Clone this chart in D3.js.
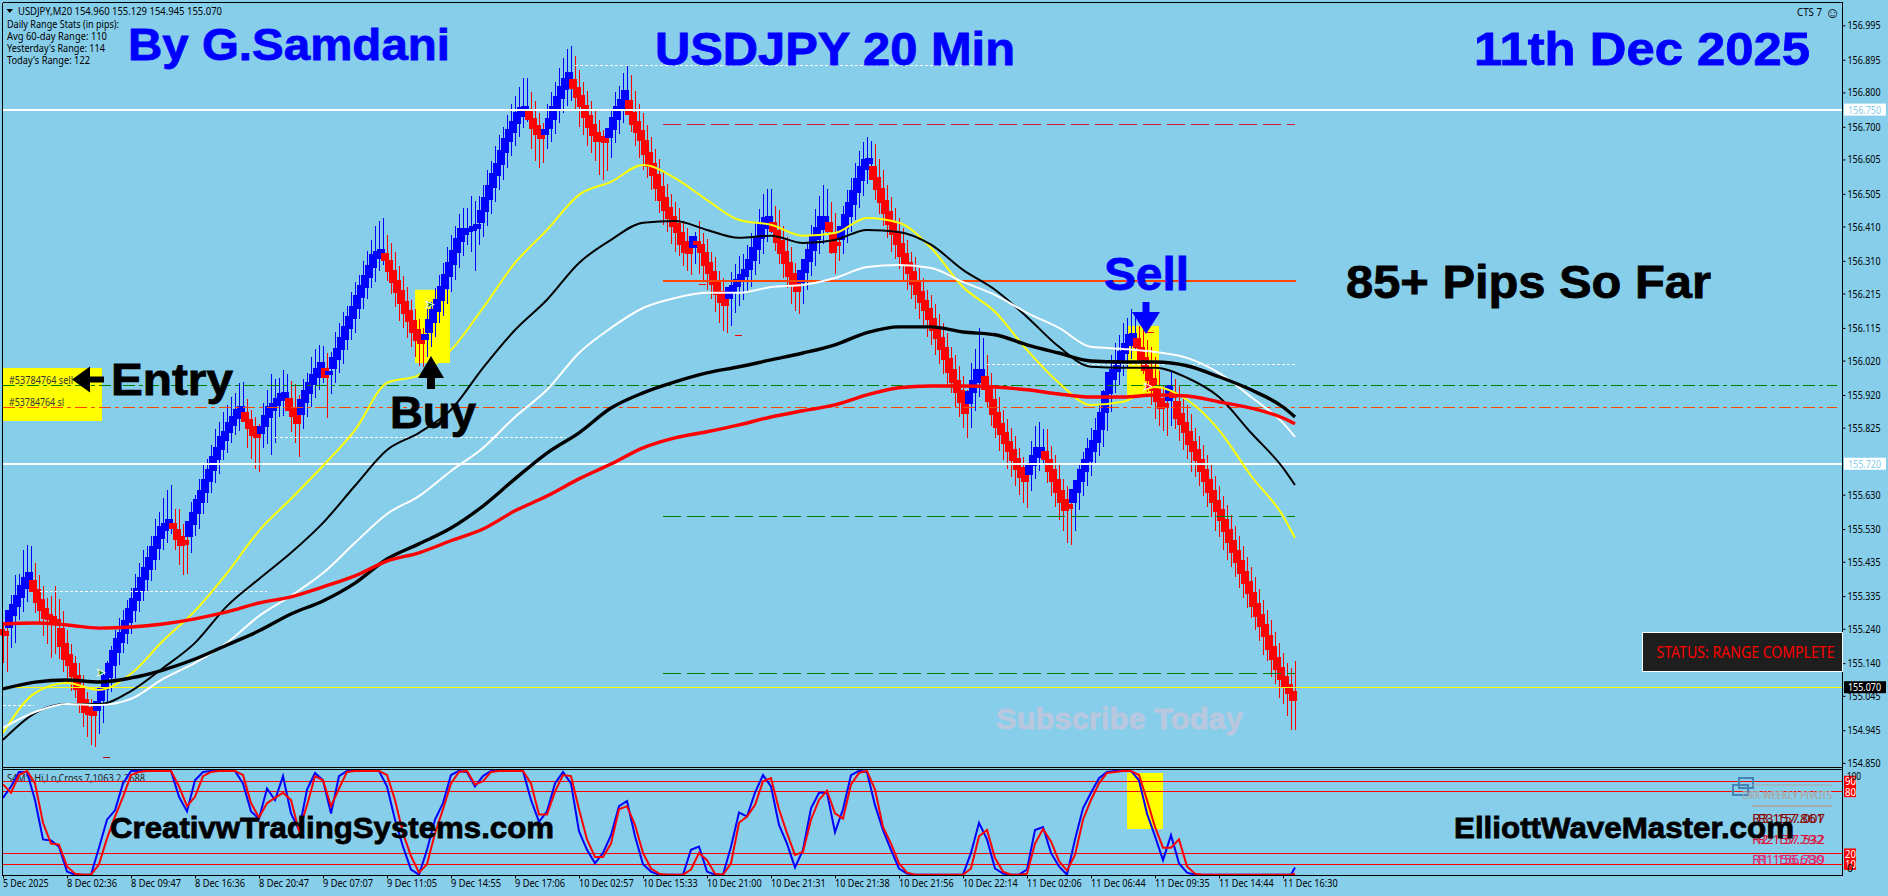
<!DOCTYPE html>
<html>
<head>
<meta charset="utf-8">
<title>USDJPY 20 Min</title>
<script src="https://d3js.org/d3.v7.min.js"></script>
<style>
    html, body { margin: 0; padding: 0; background: #87ceeb; overflow: hidden; }
    svg { display: block; font-family: "Noto Sans", "Liberation Sans", sans-serif; }
    .axis text { font-size: 11px; fill: #000; font-family: "Noto Sans", sans-serif; }
    .axis line { stroke: #000; }
    .axis path { display: none; }
    .big { font-family: "Liberation Sans", Arial, sans-serif; font-weight: bold; stroke-width: 0.8px; }
</style>
</head>
<body>
<div id="chart"></div>
<script type="text/javascript">
    // candles, one close per bar
    const closes = [
        155.231,155.225,155.269,155.295,155.320,155.348,155.373,155.392,
        155.365,155.335,155.310,155.285,155.275,155.268,155.262,155.215,155.175,155.150,155.120,155.085,155.045,155.015,155.001,154.995,
        155.016,155.050,155.085,155.120,155.155,155.190,155.215,155.245,155.280,155.310,155.340,155.370,155.400,155.430,155.460,155.490,155.520,155.535,155.548,
        155.539,155.515,155.495,155.490,
        155.530,155.560,155.595,155.625,155.655,155.685,155.720,155.750,155.781,155.800,155.825,155.845,155.865,155.877,
        155.856,155.835,155.815,155.805,
        155.818,155.845,155.870,155.885,155.900,155.914,155.920,
        155.891,155.870,155.850,
        155.885,155.915,155.940,155.965,155.985,156.002,
        155.984,
        155.985,156.013,156.040,156.070,156.100,156.130,156.160,156.190,156.220,156.250,156.280,156.310,156.327,156.335,
        156.321,156.295,156.265,156.235,156.205,156.175,156.150,156.120,156.095,156.080,
        156.089,156.120,156.150,156.180,156.215,156.250,156.285,156.320,156.355,156.385,156.395,156.400,156.405,156.410,156.440,156.475,156.510,156.545,156.575,156.610,156.645,156.675,156.700,156.725,156.743,156.752,
        156.734,156.710,156.690,156.676,
        156.685,156.710,156.740,156.770,156.800,156.825,156.845,
        156.825,156.800,156.775,156.745,156.715,156.690,156.670,156.665,156.660,
        156.682,156.710,156.740,156.765,156.790,
        156.755,156.725,156.700,156.675,156.640,156.605,156.575,156.540,156.505,156.475,156.450,156.425,156.405,156.375,156.350,156.340,
        156.365,
        156.362,156.345,156.315,156.290,156.260,156.230,156.205,156.190,
        156.217,156.230,156.245,156.260,156.275,156.300,156.330,156.360,156.395,156.420,156.430,
        156.409,156.380,156.350,156.320,156.285,156.255,156.235,
        156.264,156.295,156.325,156.360,156.390,156.420,156.430,
        156.409,156.362,156.360,
        156.391,156.425,156.460,156.495,156.530,156.565,156.590,156.600,
        156.566,156.535,156.500,156.467,156.435,156.405,156.375,156.342,156.315,156.290,156.260,156.230,156.205,156.180,156.155,156.125,156.100,156.070,156.040,156.005,155.975,155.945,155.915,155.885,
        155.914,155.945,155.975,155.985,
        155.955,155.920,155.885,155.847,155.820,155.795,155.770,155.745,155.720,155.695,155.680,
        155.705,155.730,155.752,155.760,
        155.743,155.715,155.685,155.655,155.625,155.600,155.595,
        155.626,155.655,155.685,155.715,155.745,155.772,155.800,155.845,155.900,155.955,155.980,156.005,156.030,156.055,156.080,156.090,
        156.070,156.040,156.010,155.980,155.950,155.920,155.895,155.890,
        155.926,
        155.920,155.877,155.850,155.825,155.795,155.770,155.745,155.715,155.685,155.655,155.625,155.597,155.570,155.540,155.510,155.480,155.450,155.420,155.390,155.360,155.325,155.295,155.265,155.235,155.200,155.170,155.140,155.110,155.085,155.065,155.045
    ];
    // wicks above and below the body, in pips
    const wickUp = [
        2,3,
        7,10,8,12,11,9,
        4,3,3,2,5,9,6,3,2,2,1,2,2,1,2,1,
        4,6,6,7,8,8,8,8,8,9,9,10,8,8,10,9,10,11,11,
        4,5,3,2,
        8,7,8,9,8,9,10,9,9,9,9,8,9,8,
        3,2,2,2,
        8,9,11,8,7,8,6,
        4,6,5,
        8,7,9,9,8,6,
        4,
        6,9,9,9,8,9,9,8,9,9,9,10,10,10,
        5,4,4,3,3,3,2,2,2,2,
        8,7,8,9,9,10,10,9,9,8,7,10,8,9,9,10,9,10,10,9,9,9,9,9,10,9,
        5,4,3,2,
        8,9,9,10,10,10,9,
        6,4,3,3,3,3,3,2,2,
        7,9,8,9,9,
        6,5,4,4,3,3,3,3,3,3,3,3,4,2,3,2,
        3,
        6,3,3,2,3,2,3,2,
        6,7,8,7,8,9,9,10,11,10,9,
        4,5,3,3,3,2,2,
        5,7,9,10,11,11,9,
        5,4,4,
        8,9,9,10,10,9,8,6,
        5,4,4,3,3,3,3,3,3,2,3,3,3,2,3,3,3,3,3,2,3,3,3,2,
        10,11,14,10,
        5,3,3,3,3,3,3,3,2,2,2,
        8,10,9,6,
        6,3,3,3,2,3,2,
        4,6,7,8,8,8,9,9,8,8,9,9,10,9,9,6,
        3,4,4,5,5,4,3,4,
        6,
        4,3,3,4,4,3,3,3,3,3,3,3,3,3,3,3,3,3,3,3,3,3,3,3,3,3,3,3,3,4,8
    ];
    const wickDown = [
        9,11,
        4,7,3,3,3,2,
        8,8,9,9,12,10,11,10,9,9,8,9,9,9,10,10,
        6,5,3,3,3,2,2,2,2,2,2,2,2,2,2,2,2,3,2,
        7,9,10,9,
        3,2,3,2,2,2,2,3,2,3,2,2,3,2,
        9,10,11,11,
        4,4,10,9,3,4,3,
        8,9,11,
        3,3,3,3,3,3,
        13,
        6,3,3,3,2,2,3,2,2,2,2,3,3,3,
        7,8,9,10,9,9,9,9,9,8,
        5,3,3,2,3,3,3,3,3,3,3,6,12,5,3,3,3,3,3,3,3,3,3,3,3,3,
        10,11,11,8,
        4,3,3,3,3,4,5,
        8,10,10,10,9,9,11,12,9,
        5,3,3,3,3,
        7,8,9,10,9,9,9,9,9,8,9,9,8,8,7,7,
        4,
        9,9,9,9,10,10,10,9,
        7,6,5,5,4,4,3,3,3,3,3,
        7,8,9,9,10,9,8,
        5,4,3,3,3,3,3,
        8,9,5,
        3,3,3,3,3,3,3,3,
        8,9,9,9,10,9,9,9,9,9,9,9,9,9,9,9,9,9,9,8,9,9,9,9,
        6,4,3,3,
        7,9,9,9,9,9,9,9,9,9,9,
        4,3,3,3,
        8,9,9,10,10,11,11,
        7,4,3,3,3,3,3,3,3,3,3,3,3,3,3,3,
        5,6,8,9,10,9,8,9,
        6,
        10,9,9,9,10,9,9,9,9,9,10,9,10,10,9,9,9,9,9,9,9,9,10,9,10,9,10,9,10,12,10
    ];

    // moving averages, read every 8 bars
    const maBars = d3.range(0, 324, 8).concat(323);
    const maYellow = [154.937,155.053,155.082,155.062,155.109,155.205,155.292,155.402,155.525,155.618,155.714,155.818,155.955,155.978,156.051,156.173,156.304,156.400,156.502,156.540,156.589,156.551,156.487,156.429,156.415,156.383,156.391,156.435,156.421,156.348,156.234,156.162,156.051,155.955,155.891,155.900,155.943,155.906,155.818,155.685,155.568,155.504];
    const maThinBlack = [154.917,154.995,155.021,155.021,155.059,155.126,155.199,155.306,155.385,155.461,155.548,155.656,155.760,155.810,155.877,155.999,156.109,156.197,156.304,156.371,156.421,156.426,156.400,156.377,156.383,156.362,156.371,156.400,156.394,156.357,156.284,156.226,156.147,156.060,156.002,155.999,155.999,155.970,155.914,155.810,155.708,155.658];
    const maWhite = [154.952,154.998,155.021,155.018,155.036,155.094,155.141,155.199,155.277,155.336,155.402,155.490,155.574,155.626,155.699,155.766,155.856,155.935,156.042,156.115,156.173,156.202,156.217,156.217,156.234,156.240,156.260,156.292,156.298,156.289,156.249,156.211,156.159,156.115,156.060,156.054,156.045,156.028,155.984,155.914,155.839,155.798];
    const maThickBlack = [155.065,155.085,155.091,155.085,155.097,155.120,155.152,155.193,155.234,155.283,155.321,155.373,155.443,155.487,155.533,155.597,155.676,155.751,155.810,155.882,155.926,155.958,155.984,156.002,156.022,156.042,156.066,156.101,156.118,156.118,156.103,156.095,156.066,156.042,156.019,156.016,156.016,156.005,155.973,155.935,155.885,155.856];
    const maThickRed = [155.254,155.257,155.251,155.242,155.245,155.254,155.269,155.289,155.315,155.333,155.362,155.394,155.437,155.461,155.496,155.530,155.583,155.626,155.676,155.719,155.766,155.795,155.813,155.833,155.856,155.874,155.891,155.920,155.941,155.946,155.946,155.943,155.935,155.923,155.914,155.914,155.920,155.917,155.900,155.882,155.853,155.836];

    // stochastic window, read every 2 bars
    const oscBars = d3.range(0, 324, 2).concat(323);
    const oscBlue = [74,85,99,99,72,34,33,27,3,0,0,0,26,53,62,88,100,100,100,100,100,100,75,61,91,99,100,100,100,100,88,61,54,83,72,95,59,43,82,98,91,59,95,100,100,100,100,100,85,53,27,5,0,24,53,69,96,100,99,85,95,100,100,100,100,100,72,51,61,88,99,88,42,24,11,21,38,66,71,37,10,3,0,0,0,0,24,27,3,0,0,27,60,56,79,96,85,48,30,7,24,64,79,79,41,63,96,100,99,67,43,24,6,1,0,0,0,0,0,0,0,21,50,34,6,1,0,0,5,43,46,21,8,0,34,64,79,93,99,100,100,100,91,59,37,14,38,11,2,0,0,0,0,0,0,0,0,0,0,0,0,0,7];
    const oscRed = [87,79,96,100,88,50,30,29,8,1,0,0,10,35,56,75,96,99,100,100,100,100,85,66,75,95,99,100,100,100,96,69,55,69,74,79,72,42,67,95,91,66,83,99,100,100,100,100,96,72,40,18,2,10,40,63,88,99,100,87,90,99,100,100,100,100,88,58,58,80,96,95,63,34,17,17,30,63,66,48,21,6,1,0,0,0,5,21,14,1,0,11,50,56,67,90,93,63,40,19,22,53,72,81,59,54,87,98,100,82,46,30,11,2,0,0,0,0,0,0,0,6,37,43,16,3,0,0,1,30,44,32,13,4,19,53,72,88,98,99,100,100,96,72,46,26,26,34,8,1,0,0,0,0,0,0,0,0,0,0,0,0,1];
    const oscLevels = [90, 80, 20, 10];

    const priceTicks = [156.995,156.895,156.800,156.700,156.605,156.505,156.410,156.310,156.215,156.115,156.020,155.920,155.825,155.630,155.530,155.435,155.335,155.240,155.140,155.045,154.945,154.850];
    const timeLabels = ["5 Dec 2025","8 Dec 02:36","8 Dec 09:47","8 Dec 16:36","8 Dec 20:47","9 Dec 07:07","9 Dec 11:05","9 Dec 14:55","9 Dec 17:06","10 Dec 02:57","10 Dec 15:33","10 Dec 21:00","10 Dec 21:31","10 Dec 21:38","10 Dec 21:56","10 Dec 22:14","11 Dec 02:06","11 Dec 06:44","11 Dec 09:35","11 Dec 14:44","11 Dec 16:30"];

    const width = 1888, height = 896;
    const right = 1842.5;

    const x = d3.scaleLinear().domain([0, 323]).range([3, 1295]);
    const y = d3.scaleLinear().domain([154.838, 157.060]).range([767, 3]);
    const yOsc = d3.scaleLinear().domain([0, 100]).range([874.7, 770.9]);

    const svg = d3.select("#chart").append("svg").attr("width", width).attr("height", height);
    svg.append("rect").attr("width", width).attr("height", height).attr("fill", "#87ceeb");

    function note(txt, px, py, size, color, len, cls) {
        const t = svg.append("text").attr("x", px).attr("y", py).attr("font-size", size).attr("fill", color).text(txt);
        if (cls) t.attr("class", cls).attr("stroke", color);
        if (len) t.attr("textLength", len).attr("lengthAdjust", "spacingAndGlyphs");
        return t;
    }

    // yellow highlight boxes sit behind everything
    const boxes = [[415, 450, 156.226, 156.013], [1127, 1159, 156.121, 155.920]];
    boxes.forEach(function (b) {
        svg.append("rect").attr("x", b[0]).attr("width", b[1] - b[0])
            .attr("y", y(b[2])).attr("height", y(b[3]) - y(b[2])).attr("fill", "#ffff00");
    });
    svg.append("rect").attr("x", 3).attr("y", 368).attr("width", 99).attr("height", 53).attr("fill", "#ffff00");
    svg.append("rect").attr("x", 1127).attr("y", yOsc(98)).attr("width", 36).attr("height", yOsc(44) - yOsc(98)).attr("fill", "#ffff00");

    // candles
    const bars = closes.map(function (c, i) {
        const open = i ? closes[i - 1] : 155.24;
        const top = Math.max(open, c), bottom = Math.min(open, c);
        return { i: i, up: c >= open, close: c, step: top - bottom, high: top + wickUp[i] / 100, low: bottom - wickDown[i] / 100 };
    });
    const candles = svg.append("g").attr("shape-rendering", "crispEdges");
    candles.selectAll("line").data(bars).enter().append("line")
        .attr("x1", d => x(d.i) + 0.5).attr("x2", d => x(d.i) + 0.5)
        .attr("y1", d => y(d.high)).attr("y2", d => y(d.low))
        .attr("stroke", d => d.up ? "#0000ff" : "#ff0000");
    const bodyH = d => Math.max(y(0 + 155) - y(155 + d.step) + 3, 4);
    candles.selectAll("rect").data(bars).enter().append("rect")
        .attr("x", d => x(d.i) - 6).attr("width", 8)
        .attr("y", d => y(d.close) - bodyH(d) / 2)
        .attr("height", bodyH)
        .attr("fill", d => d.up ? "#0000ff" : "#ff0000");

    // horizontal levels
    const hLevels = [
        [156.750, 3, right, "#ffffff", 2, null],
        [155.720, 3, right, "#ffffff", 2, null],
        [155.070, 3, right, "#ffff00", 1, null],
        [156.252, 663, 1296, "#ff4500", 2, null],
        [155.947, 3, 1837, "#008000", 1, "12 4 4 4"],
        [155.884, 3, 1837, "#ff4500", 1, "12 4 4 4"],
        [156.708, 663, 1295, "#dc143c", 1, "18 6"],
        [155.566, 663, 1295, "#008000", 1, "18 6"],
        [155.111, 663, 1295, "#008000", 1, "18 6"],
        [156.879, 575, 980, "#ffffff", 1, "3 2"],
        [156.009, 987, 1295, "#ffffff", 1, "3 2"],
        [155.797, 275, 566, "#ffffff", 1, "3 2"],
        [155.349, 40, 267, "#ffffff", 1, "3 2"],
        [155.018, 3, 34, "#ffffff", 1, "3 2"]
    ];
    hLevels.forEach(function (l) {
        svg.append("line").attr("x1", l[1]).attr("x2", l[2]).attr("y1", y(l[0])).attr("y2", y(l[0]))
            .attr("stroke", l[3]).attr("stroke-width", l[4]).attr("stroke-dasharray", l[5])
            .attr("shape-rendering", "crispEdges");
    });
    // little stop marks
    [[174, 156.242, "#ff0000"], [183, 156.092, "#ff0000"], [286, 156.102, "#ff0000"], [25, 154.865, "#c00000"]].forEach(function (m) {
        svg.append("line").attr("x1", x(m[0])).attr("x2", x(m[0]) + 7).attr("y1", y(m[1])).attr("y2", y(m[1]))
            .attr("stroke", m[2]).attr("shape-rendering", "crispEdges");
    });

    // moving averages
    const maLine = d3.line().x((d, i) => x(maBars[i])).y(d => y(d)).curve(d3.curveMonotoneX);
    [[maYellow, "#ffff00", 2], [maThinBlack, "#000000", 2], [maWhite, "#ffffff", 2], [maThickBlack, "#000000", 3.4], [maThickRed, "#ff0000", 3.4]].forEach(function (m) {
        svg.append("path").attr("d", maLine(m[0])).attr("fill", "none").attr("stroke", m[1]).attr("stroke-width", m[2]);
    });

    // entry and signal arrows
    function arrow(tipX, tipY, dx, dy, color, head, half, shaft, len) {
        const nx = -dy, ny = dx;
        const p = [[0, 0], [head, half], [head, shaft], [len, shaft], [len, -shaft], [head, -shaft], [head, -half]];
        svg.append("polygon")
            .attr("points", p.map(q => (tipX + dx * q[0] + nx * q[1]) + "," + (tipY + dy * q[0] + ny * q[1])).join(" "))
            .attr("fill", color);
    }
    arrow(431, 356, 0, 1, "#000000", 22, 13, 4, 33);
    arrow(72, 379.5, 1, 0, "#000000", 18, 13, 3, 32);
    arrow(1146, 334, 0, -1, "#0000ff", 22, 14, 3.5, 32);

    // trade markers
    [[24.3, 155.113, "#008000"], [106.5, 156.185, "#008000"], [286, 155.946, "#ff0000"]].forEach(function (m) {
        svg.append("text").attr("x", x(m[0])).attr("y", y(m[1]) + 4).attr("text-anchor", "middle")
            .attr("font-size", 11).attr("font-weight", "bold").attr("fill", m[2])
            .attr("stroke", "#ffffff").attr("stroke-width", 0.4).text("\u27a4");
    });

    // indicator window
    const osc = svg.append("g").attr("clip-path", "url(#oscClip)");
    svg.append("clipPath").attr("id", "oscClip").append("rect").attr("x", 3).attr("y", 769).attr("width", 1840).attr("height", 106);
    note("S4M's Hi,Lo,Cross 7,1063 2,2688", 7, 782, 11, "#222222", 138);
    oscLevels.forEach(function (l) {
        svg.append("line").attr("x1", 3).attr("x2", right).attr("y1", yOsc(l)).attr("y2", yOsc(l))
            .attr("stroke", "#ff0000").attr("shape-rendering", "crispEdges");
    });

    // pivot panel overlay
    [[1739, 778, 14, 10], [1733, 785, 15, 10]].forEach(function (r) {
        svg.append("rect").attr("x", r[0]).attr("y", r[1]).attr("width", r[2]).attr("height", r[3])
            .attr("fill", "none").attr("stroke", "#4682b4").attr("stroke-width", 2);
    });
    svg.append("line").attr("x1", 1752).attr("x2", 1832).attr("y1", 785).attr("y2", 785).attr("stroke", "#a9a9a9");
    svg.append("line").attr("x1", 1752).attr("x2", 1832).attr("y1", 806).attr("y2", 806).attr("stroke", "#a9a9a9").attr("stroke-width", 2);
    note("DRF-WEEKLY PIVOTS", 1742, 799, 10, "#a9a9a9", 90);
    note("FX-WEEKLY PIVOTS", 1750, 799, 10, "#a9a9a9", 82);
    [["R3 157.861", "R3 157.007", 823, "#8b0000"], ["R2 157.792", "R2 157.532", 844, "#dc143c"], ["R1 156.680", "R1 156.739", 864, "#e0246c"]].forEach(function (p) {
        note(p[0], 1752, p[2], 13, p[3], 72);
        note(p[1], 1758, p[2], 13, p[3], 67);
    });
    osc.append("text").attr("x", 1738).attr("y", 885).attr("font-size", 13).attr("fill", "#ff4500").attr("textLength", 88).text("Pivot 156.252");

    const oscLine = d3.line().x((d, i) => x(oscBars[i])).y(d => yOsc(d));
    svg.append("path").attr("d", oscLine(oscBlue)).attr("fill", "none").attr("stroke", "#0000ff").attr("stroke-width", 2);
    svg.append("path").attr("d", oscLine(oscRed)).attr("fill", "none").attr("stroke", "#ff0000").attr("stroke-width", 2);

    // frame
    [[2.5, 2.5, right, 2.5], [2.5, 767.5, right, 767.5], [2.5, 769.5, right, 769.5], [2.5, 875.5, right, 875.5], [2.5, 2.5, 2.5, 875.5], [right, 2.5, right, 875.5]].forEach(function (l) {
        svg.append("line").attr("x1", l[0]).attr("y1", l[1]).attr("x2", l[2]).attr("y2", l[3])
            .attr("stroke", "#000").attr("shape-rendering", "crispEdges");
    });

    // axes
    const yAxis = svg.append("g").attr("class", "axis").attr("transform", "translate(" + right + ",0)")
        .call(d3.axisRight(y).tickValues(priceTicks).tickFormat(d3.format(".3f")).tickSize(3).tickPadding(2));
    yAxis.selectAll("text").attr("textLength", 33).attr("lengthAdjust", "spacingAndGlyphs");
    const xAxis = svg.append("g").attr("class", "axis").attr("transform", "translate(0,875.5)")
        .call(d3.axisBottom(x).tickValues(d3.range(0, 324, 16)).tickFormat((d, i) => timeLabels[i]).tickSize(3).tickPadding(1));
    xAxis.selectAll("text").attr("text-anchor", "start").attr("dx", "-0.5")
        .attr("textLength", (d, i) => timeLabels[i].length * 4.55).attr("lengthAdjust", "spacingAndGlyphs");

    // price flags on the axis
    [[156.750, "#ffffff", "#87ceeb"], [155.720, "#ffffff", "#87ceeb"], [155.070, "#000000", "#ffffff"]].forEach(function (f) {
        svg.append("rect").attr("x", 1844).attr("y", y(f[0]) - 6).attr("width", 42).attr("height", 12).attr("fill", f[1]);
        note(d3.format(".3f")(f[0]), 1848, y(f[0]) + 4, 11, f[2], 33);
    });

    // level labels of the indicator
    oscLevels.forEach(function (l) {
        svg.append("rect").attr("x", 1844).attr("y", yOsc(l) - 5.5).attr("width", 12).attr("height", 11).attr("fill", "#ff0000");
        note(l, 1845, yOsc(l) + 4, 11, "#ffffff", 11);
    });
    note("100", 1847, 780, 11, "#000", 14);
    note("0", 1847, 872, 11, "#000", 6);

    // header text
    svg.append("path").attr("d", "M6.5 9 L13 9 L9.7 13 Z").attr("fill", "#000");
    note("USDJPY,M20  154.960 155.129 154.945 155.070", 18, 15, 11, "#000", 204);
    note("Daily Range Stats (in pips):", 7, 28, 11, "#000", 112);
    note("Avg 60-day Range: 110", 7, 40, 11, "#000", 100);
    note("Yesterday's Range: 114", 7, 52, 11, "#000", 98);
    note("Today's Range: 122", 7, 64, 11, "#000", 83);
    note("CTS 7", 1797, 16, 11, "#000", 25);
    note("\u263a", 1825, 18, 15, "#000");

    // order labels
    note("#53784764 sell", 9, 384, 11, "#333", 64);
    note("#53784764 sl", 9, 406, 11, "#333", 55);

    // captions
    note("By G.Samdani", 128, 60, 44, "#0000ff", 322, "big");
    note("USDJPY 20 Min", 655, 65, 46, "#0000ff", 360, "big");
    note("11th Dec 2025", 1474, 65, 46, "#0000ff", 336, "big");
    note("85+ Pips So Far", 1346, 298, 46, "#000000", 365, "big");
    note("Sell", 1104, 290, 46, "#0000ff", 85, "big");
    note("Entry", 111, 395, 44, "#000000", 122, "big");
    note("Buy", 390, 428, 44, "#000000", 86, "big");
    note("CreativwTradingSystems.com", 110, 838, 30, "#000000", 444, "big");
    note("ElliottWaveMaster.com", 1454, 838, 30, "#000000", 340, "big");
    note("Subscribe Today", 996, 729, 30, "#b9c8df", 247, "big");

    // status box
    svg.append("rect").attr("x", 1642.5).attr("y", 632.5).attr("width", right - 1642.5).attr("height", 39)
        .attr("fill", "#1e1e1e").attr("stroke", "#ffffff");
    note("STATUS: RANGE COMPLETE", 1656.5, 658, 15.5, "#ff0000", 178);
</script>
</body>
</html>
